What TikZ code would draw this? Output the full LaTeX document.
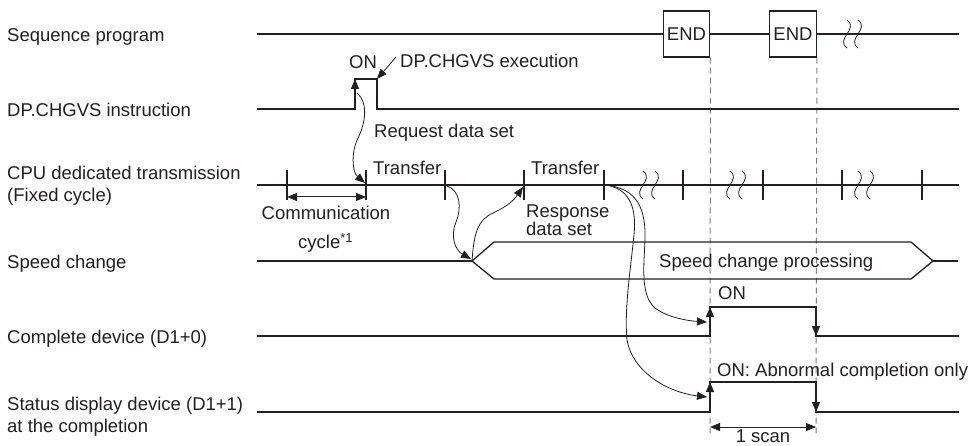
\documentclass[tikz,border=0pt]{standalone}
\usepackage{fontspec}
\setmainfont{Liberation Sans}
\usetikzlibrary{arrows.meta}
\definecolor{ink}{HTML}{231F20}
\definecolor{guidegray}{HTML}{808080}
\newcommand\brkmark[2]{\draw[brk] (#1,#2-14) .. controls (#1+12,#2-5) and (#1-12,#2+5) .. (#1,#2+14);}
\begin{document}
\begin{tikzpicture}[x=1pt,y=-1pt,
  sig/.style={draw=ink,line width=1.3pt,line join=miter},
  conn/.style={draw=ink,line width=0.8pt,-{Triangle[length=10pt,width=8pt]}},
  edgearrow/.style={draw=ink,line width=1.3pt,-{Triangle[length=10pt,width=8pt]}},
  dimarrow/.style={draw=ink,line width=1pt,{Triangle[length=10pt,width=8pt]}-{Triangle[length=10pt,width=8pt]}},
  guide/.style={draw=guidegray,line width=1pt,dash pattern=on 6pt off 4pt},
  lbl/.style={inner sep=0pt,anchor=base west,text=ink,font=\fontsize{18.5}{22}\selectfont},
  endbox/.style={draw=ink,line width=1.3pt,minimum width=46.5pt,minimum height=46pt,inner sep=0pt,text=ink,font=\fontsize{18.5}{22}\selectfont},
  brk/.style={draw=ink,line width=0.8pt}
]
\useasboundingbox (0,0) rectangle (971,446);

% ---- left labels
\node[lbl] (l1) at (7,41.5) {Sequence program};
\node[lbl] (l2) at (7,116.5) {DP.CHGVS instruction};
\node[lbl] (l3a) at (7,180) {CPU dedicated transmission};
\node[lbl] (l3b) at (7,202) {(Fixed cycle)};
\node[lbl] (l4) at (7,268.5) {Speed change};
\node[lbl] (l5) at (7,343.5) {Complete device (D1+0)};
\node[lbl] (l6a) at (7,410) {Status display device (D1+1)};
\node[lbl] (l6b) at (7,432) {at the completion};

% ---- sequence program
\coordinate (s0) at (257,34);
\coordinate (s1) at (959,34);
\node[endbox] (end1) at (686.5,34) {END};
\node[endbox] (end2) at (793,34) {END};
\draw[sig] (s0) -- (end1) -- (end2) -- (s1);
\brkmark{847}{34}
\brkmark{858}{34}

% ---- guides
\coordinate (g1) at (710,433);
\coordinate (g2) at (816,433);
\draw[guide] (end1.south east) -- (g1);
\draw[guide] (end2.south east) -- (g2);

% ---- DP.CHGVS instruction
\coordinate (d0) at (257,109);
\coordinate (dR) at (355,109);
\coordinate (dRm) at (355,95);
\coordinate (dRt) at (355,79);
\coordinate (dFt) at (377,79);
\coordinate (dF) at (377,109);
\coordinate (d1) at (959,109);
\draw[sig] (d0) -- (dR) -- (dRt) -- (dFt) -- (dF) -- (d1);
\draw[edgearrow] (dRm) -- (dRt);
\node[lbl] (on1) at (349,68.5) {ON};
\node[lbl] (exe) at (400,68) {DP.CHGVS execution};
\coordinate (exs) at (396,57);
\draw[conn] (exs) -- (dFt);
\node[lbl] (req) at (374,138) {Request data set};

% ---- CPU dedicated transmission
\coordinate (c0) at (257,185);
\coordinate (c1) at (959,185);
\draw[sig] (c0) -- (c1);
\foreach \x in {287,366,445,524,604,683,763,842,922}
  \draw[sig] (\x,170) -- (\x,200);
\brkmark{643}{185}
\brkmark{655}{185}
\brkmark{730}{185}
\brkmark{742}{185}
\brkmark{858}{185}
\brkmark{870}{185}
\coordinate (cc0) at (287,197);
\coordinate (cc1) at (366,197);
\draw[dimarrow] (cc0) -- (cc1);
\node[lbl,anchor=base] (comm) at (326,219.5) {Communication};
\node[lbl] (cyc) at (298,248.5) {cycle\textsuperscript{*1}};
\node[lbl] (tr1) at (373,174.5) {Transfer};
\node[lbl] (tr2) at (531,174.5) {Transfer};
\node[lbl,align=left,font=\fontsize{18.5}{16.5}\selectfont] (resp) at (526,236) {Response\\data set};

% ---- speed change
\coordinate (v0) at (257,261);
\coordinate (hexL) at (472,261);
\coordinate (hexTL) at (494,242);
\coordinate (hexTR) at (911,242);
\coordinate (hexR) at (933,261);
\coordinate (hexBR) at (911,279);
\coordinate (hexBL) at (494,279);
\coordinate (v1) at (958,261);
\draw[sig] (v0) -- (hexL);
\draw[sig] (hexL) -- (hexTL) -- (hexTR) -- (hexR) -- (hexBR) -- (hexBL) -- cycle;
\draw[sig] (hexR) -- (v1);
\node[lbl] (scp) at (659,267.5) {Speed change processing};

% ---- complete device
\coordinate (a0) at (257,336);
\coordinate (aR) at (710,336);
\coordinate (aRm) at (710,322);
\coordinate (aRt) at (710,307);
\coordinate (aFt) at (816,307);
\coordinate (aFm) at (816,318);
\coordinate (aF) at (816,336);
\coordinate (a1) at (959,336);
\draw[sig] (a0) -- (aR) -- (aRt) -- (aFt) -- (aF) -- (a1);
\draw[edgearrow] (aRm) -- (aRt);
\draw[edgearrow] (aFm) -- (aF);
\node[lbl] (on2) at (718,299.5) {ON};

% ---- status display device
\coordinate (b0) at (257,412);
\coordinate (bR) at (710,412);
\coordinate (bRm) at (710,398);
\coordinate (bRt) at (710,382);
\coordinate (bFt) at (816,382);
\coordinate (bFm) at (816,393);
\coordinate (bF) at (816,412);
\coordinate (b1) at (959,412);
\draw[sig] (b0) -- (bR) -- (bRt) -- (bFt) -- (bF) -- (b1);
\draw[edgearrow] (bRm) -- (bRt);
\draw[edgearrow] (bFm) -- (bF);
\node[lbl] (on3) at (717,376.5) {ON: Abnormal completion only};
\coordinate (sc0) at (710,427);
\coordinate (sc1) at (816,427);
\draw[dimarrow] (sc0) -- (sc1);
\node[lbl,anchor=base] (scan) at (763,442.5) {1 scan};

% ---- connectors (curves)
\coordinate (rq0) at (357,93);
\coordinate (rq1) at (365,183);
\draw[conn] (rq0) .. controls (368,102) and (366,122) .. (358,138)
             .. controls (351,152) and (352,172) .. (rq1);
\coordinate (t1) at (447,186);
\coordinate (hexLa) at (471,259);
\draw[conn] (t1) .. controls (460,190) and (462,208) .. (456,222)
             .. controls (450,236) and (455,250) .. (hexLa);
\coordinate (t2) at (523,187);
\draw[conn] (hexL) .. controls (474,232) and (478,220) .. (493,213)
             .. controls (508,206) and (514,200) .. (t2);
\coordinate (t3) at (605,185);
\coordinate (aIn) at (707,322);
\coordinate (bIn) at (707,397);
\draw[conn] (t3) .. controls (638,188) and (646,210) .. (645,240)
             .. controls (644,265) and (640,295) .. (655,308)
             .. controls (668,318) and (690,321) .. (aIn);
\draw[conn] (t3) .. controls (628,188) and (637,205) .. (634,235)
             .. controls (631,265) and (624,310) .. (627,340)
             .. controls (632,370) and (665,392) .. (bIn);
\end{tikzpicture}
\end{document}
